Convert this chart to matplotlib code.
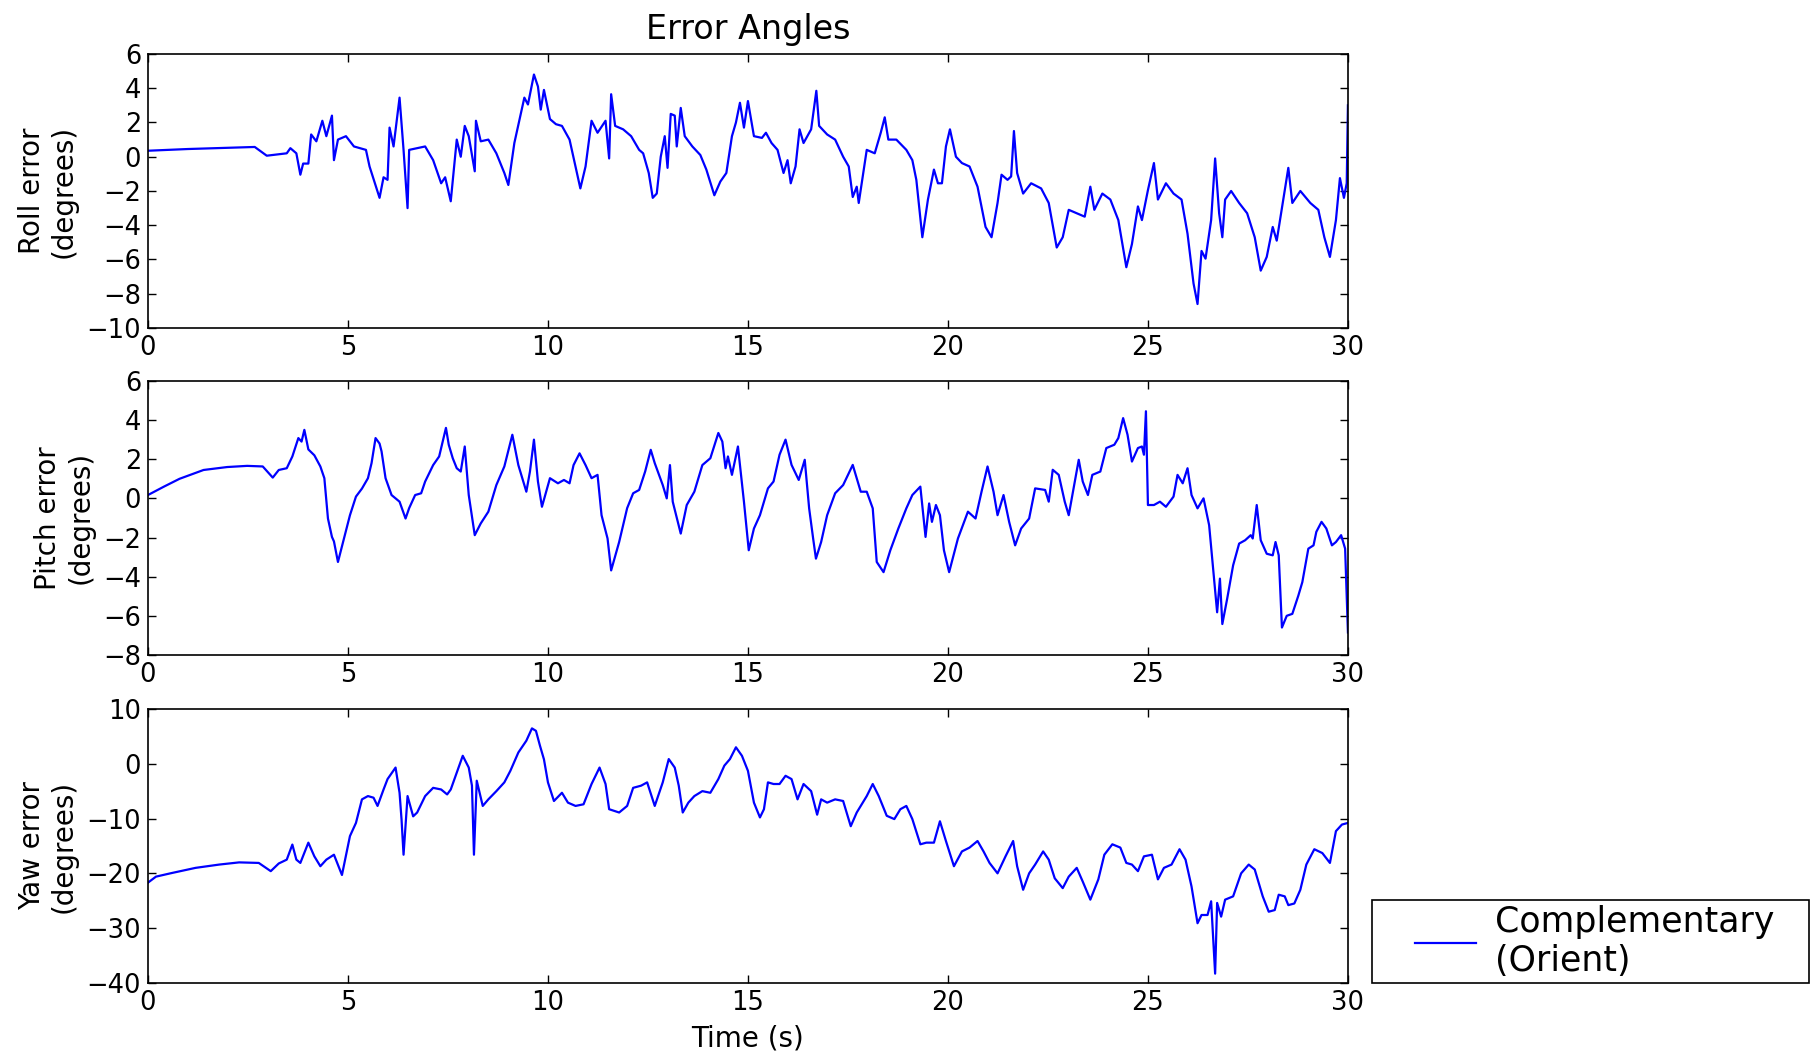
import matplotlib
matplotlib.use('Agg')
import matplotlib.pyplot as plt
from matplotlib.patches import Rectangle

# values (time in s, error in degrees)
roll_t = [0.00, 1.00, 2.00, 2.67, 2.97, 3.47, 3.56, 3.71, 3.81, 3.88, 4.01, 4.08, 4.21, 4.36, 4.46,
          4.60, 4.65, 4.75, 4.95, 5.15, 5.45, 5.54, 5.79, 5.89, 5.99, 6.04, 6.14, 6.29, 6.39, 6.49,
          6.53, 6.73, 6.93, 7.13, 7.33, 7.43, 7.57, 7.72, 7.82, 7.92, 8.02, 8.17, 8.20, 8.32, 8.51,
          8.71, 8.91, 9.01, 9.16, 9.41, 9.50, 9.65, 9.75, 9.82, 9.90, 10.05, 10.20, 10.35, 10.54,
          10.69, 10.81, 10.94, 11.09, 11.24, 11.44, 11.53, 11.58, 11.68, 11.88, 12.08, 12.28, 12.38,
          12.52, 12.62, 12.72, 12.82, 12.92, 12.99, 13.07, 13.17, 13.22, 13.32, 13.42, 13.61, 13.81,
          13.96, 14.16, 14.31, 14.46, 14.60, 14.70, 14.80, 14.90, 15.00, 15.15, 15.35, 15.45, 15.59,
          15.74, 15.89, 15.99, 16.07, 16.19, 16.29, 16.39, 16.58, 16.71, 16.78, 16.98, 17.18, 17.38,
          17.52, 17.62, 17.72, 17.77, 17.97, 18.17, 18.32, 18.42, 18.51, 18.71, 18.96, 19.11, 19.21,
          19.36, 19.50, 19.65, 19.75, 19.85, 19.95, 20.05, 20.20, 20.35, 20.54, 20.74, 20.94, 21.09,
          21.24, 21.34, 21.49, 21.58, 21.65, 21.73, 21.88, 22.08, 22.33, 22.52, 22.72, 22.87, 23.02,
          23.22, 23.42, 23.56, 23.66, 23.86, 24.06, 24.26, 24.46, 24.60, 24.75, 24.85, 25.00, 25.15,
          25.25, 25.45, 25.64, 25.84, 25.99, 26.14, 26.24, 26.34, 26.44, 26.58, 26.68, 26.78, 26.86,
          26.93, 27.08, 27.28, 27.48, 27.67, 27.82, 27.97, 28.12, 28.22, 28.37, 28.51, 28.61, 28.81,
          29.06, 29.26, 29.41, 29.55, 29.70, 29.80, 29.90, 29.97, 30.00]
roll_deg = [0.35, 0.45, 0.52, 0.57, 0.06, 0.2, 0.5, 0.2, -1.05, -0.4, -0.4, 1.3, 0.9, 2.1, 1.2,
            2.4, -0.2, 1.0, 1.2, 0.6, 0.4, -0.57, -2.4, -1.2, -1.35, 1.7, 0.6, 3.45, 0.4, -3.0,
            0.4, 0.5, 0.6, -0.2, -1.55, -1.2, -2.6, 1.0, 0.0, 1.8, 1.2, -0.85, 2.1, 0.9, 1.0,
            0.2, -0.95, -1.65, 0.8, 3.45, 3.05, 4.8, 4.1, 2.75, 3.9, 2.2, 1.9, 1.8, 1.0,
            -0.57, -1.85, -0.57, 2.1, 1.4, 2.1, -0.1, 3.65, 1.8, 1.6, 1.2, 0.4, 0.2,
            -0.95, -2.4, -2.15, 0.0, 1.2, -0.65, 2.5, 2.4, 0.6, 2.85, 1.2, 0.6, 0.1,
            -0.75, -2.25, -1.45, -0.95, 1.2, 2.0, 3.15, 1.7, 3.25, 1.2, 1.1, 1.4, 0.8,
            0.4, -0.95, -0.2, -1.55, -0.57, 1.6, 0.8, 1.6, 3.85, 1.8, 1.3, 1.0, 0.0,
            -0.57, -2.35, -1.75, -2.7, 0.4, 0.2, 1.4, 2.3, 1.0, 1.0, 0.4, -0.2, -1.35,
            -4.7, -2.5, -0.75, -1.55, -1.55, 0.6, 1.6, 0.0, -0.37, -0.57, -1.75, -4.1, -4.7,
            -2.7, -1.05, -1.35, -1.15, 1.5, -0.95, -2.15, -1.55, -1.85, -2.7, -5.3, -4.7, -3.1,
            -3.3, -3.5, -1.75, -3.1, -2.15, -2.5, -3.7, -6.45, -5.1, -2.9, -3.7, -1.95, -0.37,
            -2.5, -1.55, -2.15, -2.5, -4.5, -7.4, -8.6, -5.5, -5.95, -3.7, -0.1, -3.3, -4.7,
            -2.5, -2.0, -2.7, -3.3, -4.7, -6.65, -5.85, -4.1, -4.9, -2.7, -0.65, -2.7, -2.0,
            -2.7, -3.1, -4.7, -5.85, -3.7, -1.25, -2.4, -1.55, 3.0]

pitch_t = [0.00, 0.40, 0.79, 1.39, 1.98, 2.48, 2.87, 3.12, 3.27, 3.47, 3.61, 3.76, 3.84, 3.91, 4.01,
           4.16, 4.31, 4.41, 4.50, 4.60, 4.65, 4.75, 4.90, 5.05, 5.20, 5.35, 5.50, 5.59, 5.69, 5.79,
           5.84, 5.94, 6.09, 6.29, 6.44, 6.53, 6.68, 6.83, 6.93, 7.13, 7.28, 7.38, 7.45, 7.52, 7.62,
           7.72, 7.82, 7.92, 8.02, 8.17, 8.32, 8.51, 8.71, 8.91, 9.11, 9.26, 9.46, 9.55, 9.65, 9.75,
           9.85, 10.05, 10.25, 10.40, 10.54, 10.64, 10.79, 10.94, 11.09, 11.24, 11.34, 11.49, 11.58,
           11.78, 11.98, 12.13, 12.28, 12.43, 12.57, 12.67, 12.87, 12.97, 13.05, 13.12, 13.32, 13.47,
           13.66, 13.86, 14.06, 14.26, 14.36, 14.44, 14.50, 14.60, 14.75, 14.90, 15.02, 15.15, 15.30,
           15.50, 15.64, 15.79, 15.94, 16.09, 16.27, 16.42, 16.53, 16.63, 16.70, 16.83, 16.98, 17.18,
           17.38, 17.62, 17.82, 17.97, 18.12, 18.22, 18.39, 18.56, 18.76, 18.96, 19.11, 19.31, 19.44,
           19.53, 19.60, 19.70, 19.80, 19.90, 20.03, 20.25, 20.50, 20.69, 20.84, 20.99, 21.14, 21.24,
           21.39, 21.53, 21.68, 21.83, 22.03, 22.18, 22.43, 22.52, 22.62, 22.77, 22.92, 23.02, 23.12,
           23.27, 23.37, 23.50, 23.61, 23.81, 23.96, 24.16, 24.26, 24.38, 24.49, 24.60, 24.75, 24.85,
           24.90, 24.95, 25.00, 25.15, 25.30, 25.45, 25.64, 25.74, 25.87, 25.99, 26.09, 26.24, 26.39,
           26.53, 26.63, 26.73, 26.80, 26.86, 26.98, 27.13, 27.28, 27.43, 27.57, 27.62, 27.72, 27.82,
           27.97, 28.12, 28.19, 28.27, 28.35, 28.47, 28.61, 28.76, 28.86, 29.01, 29.14, 29.21, 29.34,
           29.46, 29.60, 29.70, 29.83, 29.93, 30.00]
pitch_deg = [0.17, 0.6, 1.0, 1.45, 1.6, 1.66, 1.63, 1.06, 1.45, 1.54, 2.14, 3.08, 2.9, 3.5, 2.5,
             2.2, 1.63, 1.03, -1.03, -1.97, -2.2, -3.25, -2.05, -0.86, 0.09, 0.5, 1.03, 1.8, 3.08, 2.8,
             2.4, 1.03, 0.17, -0.17, -1.03, -0.5, 0.17, 0.26, 0.86, 1.7, 2.14, 3.0, 3.6, 2.74, 2.05,
             1.54, 1.37, 2.65, 0.17, -1.88, -1.28, -0.68, 0.68, 1.63, 3.25, 1.7, 0.34, 1.37, 3.0, 0.86,
             -0.43, 1.03, 0.77, 0.94, 0.77, 1.7, 2.3, 1.7, 1.03, 1.2, -0.86, -2.05, -3.68,
             -2.23, -0.5, 0.26, 0.43, 1.37, 2.48, 1.8, 0.68, 0.0, 1.7, -0.17, -1.8, -0.34,
             0.34, 1.7, 2.05, 3.34, 2.9, 1.54, 2.14, 1.2, 2.65, -0.17, -2.65, -1.54, -0.86,
             0.51, 0.86, 2.23, 3.0, 1.71, 0.94, 1.97, -0.51, -2.05, -3.08, -2.23, -0.86, 0.26,
             0.68, 1.71, 0.34, 0.34, -0.51, -3.25, -3.77, -2.65, -1.54, -0.51, 0.17, 0.6, -1.97,
             -0.26, -1.2, -0.34, -0.86, -2.65, -3.77, -2.05, -0.68, -1.03, 0.34, 1.63, 0.34, -0.86,
             0.17, -1.2, -2.4, -1.54, -1.03, 0.51, 0.43, -0.17, 1.46, 1.2, -0.17, -0.86, 0.26,
             1.97, 0.86, 0.17, 1.2, 1.37, 2.57, 2.74, 3.08, 4.1, 3.25, 1.88, 2.57, 2.65,
             2.23, 4.45, -0.34, -0.34, -0.17, -0.43, 0.09, 1.2, 0.77, 1.54, 0.17, -0.51, 0.0,
             -1.37, -3.6, -5.82, -4.1, -6.42, -5.14, -3.42, -2.31, -2.14, -1.88, -2.05, -0.34, -2.14,
             -2.83, -2.91, -2.23, -2.91, -6.6, -6.0, -5.9, -4.97, -4.28, -2.57, -2.4, -1.71, -1.2,
             -1.54, -2.4, -2.23, -1.88, -2.57, -6.85]

yaw_t = [0.00, 0.20, 0.59, 1.19, 1.78, 2.28, 2.77, 3.07, 3.27, 3.47, 3.61, 3.71, 3.81, 4.01, 4.16,
         4.31, 4.46, 4.65, 4.85, 5.05, 5.20, 5.35, 5.50, 5.64, 5.74, 5.89, 5.99, 6.19, 6.29, 6.34,
         6.39, 6.49, 6.63, 6.73, 6.93, 7.13, 7.33, 7.48, 7.57, 7.72, 7.87, 8.02, 8.10, 8.15, 8.22,
         8.37, 8.51, 8.71, 8.91, 9.06, 9.26, 9.46, 9.60, 9.70, 9.80, 9.90, 10.00, 10.15, 10.35,
         10.50, 10.69, 10.89, 11.09, 11.29, 11.44, 11.53, 11.78, 11.98, 12.13, 12.33, 12.48, 12.67,
         12.87, 13.02, 13.17, 13.27, 13.37, 13.51, 13.66, 13.86, 14.06, 14.26, 14.41, 14.55, 14.70,
         14.85, 15.00, 15.15, 15.30, 15.40, 15.50, 15.64, 15.79, 15.94, 16.09, 16.24, 16.39, 16.58,
         16.73, 16.83, 16.98, 17.18, 17.38, 17.57, 17.72, 17.97, 18.12, 18.27, 18.47, 18.66, 18.81,
         18.96, 19.11, 19.31, 19.46, 19.65, 19.80, 19.95, 20.15, 20.35, 20.54, 20.74, 20.89, 21.04,
         21.24, 21.44, 21.63, 21.73, 21.88, 22.03, 22.18, 22.38, 22.52, 22.67, 22.87, 23.02, 23.22,
         23.37, 23.56, 23.76, 23.91, 24.11, 24.31, 24.46, 24.60, 24.75, 24.90, 25.10, 25.25, 25.40,
         25.59, 25.79, 25.94, 26.09, 26.24, 26.34, 26.49, 26.58, 26.68, 26.73, 26.83, 26.93, 27.13,
         27.33, 27.52, 27.67, 27.87, 28.02, 28.17, 28.27, 28.42, 28.51, 28.66, 28.81, 28.96, 29.16,
         29.36, 29.55, 29.70, 29.85, 30.00]
yaw_deg = [-21.7, -20.6, -19.95, -19.0, -18.4, -18.0, -18.1, -19.6, -18.2, -17.5, -14.75, -17.5, -18.1, -14.4, -16.9,
           -18.7, -17.5, -16.6, -20.3, -13.2, -10.8, -6.5, -5.9, -6.2, -7.7, -4.7, -2.8, -0.7, -5.3, -10.2,
           -16.6, -5.9, -9.6, -8.9, -5.9, -4.4, -4.7, -5.6, -4.7, -1.6, 1.45, -0.7, -4.0, -16.6, -3.1,
           -7.7, -6.5, -5.0, -3.4, -1.3, 2.05, 4.2, 6.45, 6.0, 3.3, 0.8, -3.4, -6.8, -5.3,
           -7.1, -7.7, -7.4, -3.7, -0.7, -3.7, -8.3, -8.9, -7.7, -4.4, -4.0, -3.4, -7.7,
           -3.4, 0.85, -0.7, -4.0, -8.9, -7.1, -5.9, -5.0, -5.3, -2.8, -0.35, 0.85, 3.0,
           1.45, -1.3, -7.1, -9.8, -8.3, -3.4, -3.7, -3.7, -2.2, -2.8, -6.5, -3.7, -5.0,
           -9.3, -6.5, -7.1, -6.5, -6.8, -11.4, -8.9, -5.9, -3.7, -5.9, -9.5, -10.1, -8.3,
           -7.7, -10.1, -14.7, -14.4, -14.4, -10.5, -14.1, -18.7, -16.0, -15.3, -14.1, -16.0, -18.1,
           -20.0, -16.9, -14.1, -18.7, -23.0, -20.0, -18.4, -16.0, -17.5, -20.9, -22.7, -20.6, -19.0,
           -21.5, -24.8, -21.1, -16.6, -14.7, -15.3, -18.1, -18.4, -19.6, -16.9, -16.6, -21.1, -19.0,
           -18.4, -15.6, -17.5, -22.4, -29.1, -27.6, -27.6, -25.1, -38.3, -25.4, -27.9, -24.8, -24.2,
           -20.0, -18.4, -19.3, -24.2, -27.0, -26.7, -23.9, -24.2, -25.8, -25.5, -23.0, -18.4, -15.6,
           -16.3, -18.1, -12.3, -11.1, -10.8]

x_ticks = [0, 5, 10, 15, 20, 25, 30]
panels = [
    (roll_t, roll_deg, 'Roll error\n(degrees)', (-10, 6), list(range(-10, 7, 2))),
    (pitch_t, pitch_deg, 'Pitch error\n(degrees)', (-8, 6), list(range(-8, 7, 2))),
    (yaw_t, yaw_deg, 'Yaw error\n(degrees)', (-40, 10), list(range(-40, 11, 10))),
]
bottoms = [0.6888, 0.3786, 0.0674]

fig = plt.figure(figsize=(18.11, 10.54), dpi=100)
axes = []
lines = []
for (t, v, lab, ylim, yt), b in zip(panels, bottoms):
    ax = fig.add_axes([0.0817, b, 0.6626, 0.26])
    ln, = ax.plot(t, v, color='b', linewidth=1.6)
    lines.append(ln)
    ax.set_xlim(0, 30)
    ax.set_ylim(*ylim)
    ax.set_xticks(x_ticks)
    ax.set_yticks(yt)
    ax.tick_params(direction='in', top=True, right=True, length=6, width=1,
                   labelsize=18.5, pad=5)
    ax.set_ylabel(lab, fontsize=20, labelpad=6)
    for s in ax.spines.values():
        s.set_linewidth(1.2)
    axes.append(ax)

axes[0].set_title('Error Angles', fontsize=24, pad=11)
axes[2].set_xlabel('Time (s)', fontsize=20, labelpad=6)
fig.align_ylabels(axes)

# legend box to the right of the bottom panel
fig.patches.append(Rectangle((0.7576, 0.0674), 0.2413, 0.0787, transform=fig.transFigure,
                             facecolor='white', edgecolor='black', linewidth=1.2))
fig.legend([lines[2]], ['Complementary\n(Orient)'], loc='center left',
           bbox_to_anchor=(0.7815, 0.1067), frameon=False, fontsize=25,
           handlelength=1.75, handletextpad=0.55, borderpad=0, borderaxespad=0)

fig.savefig('out.png', dpi=100)
